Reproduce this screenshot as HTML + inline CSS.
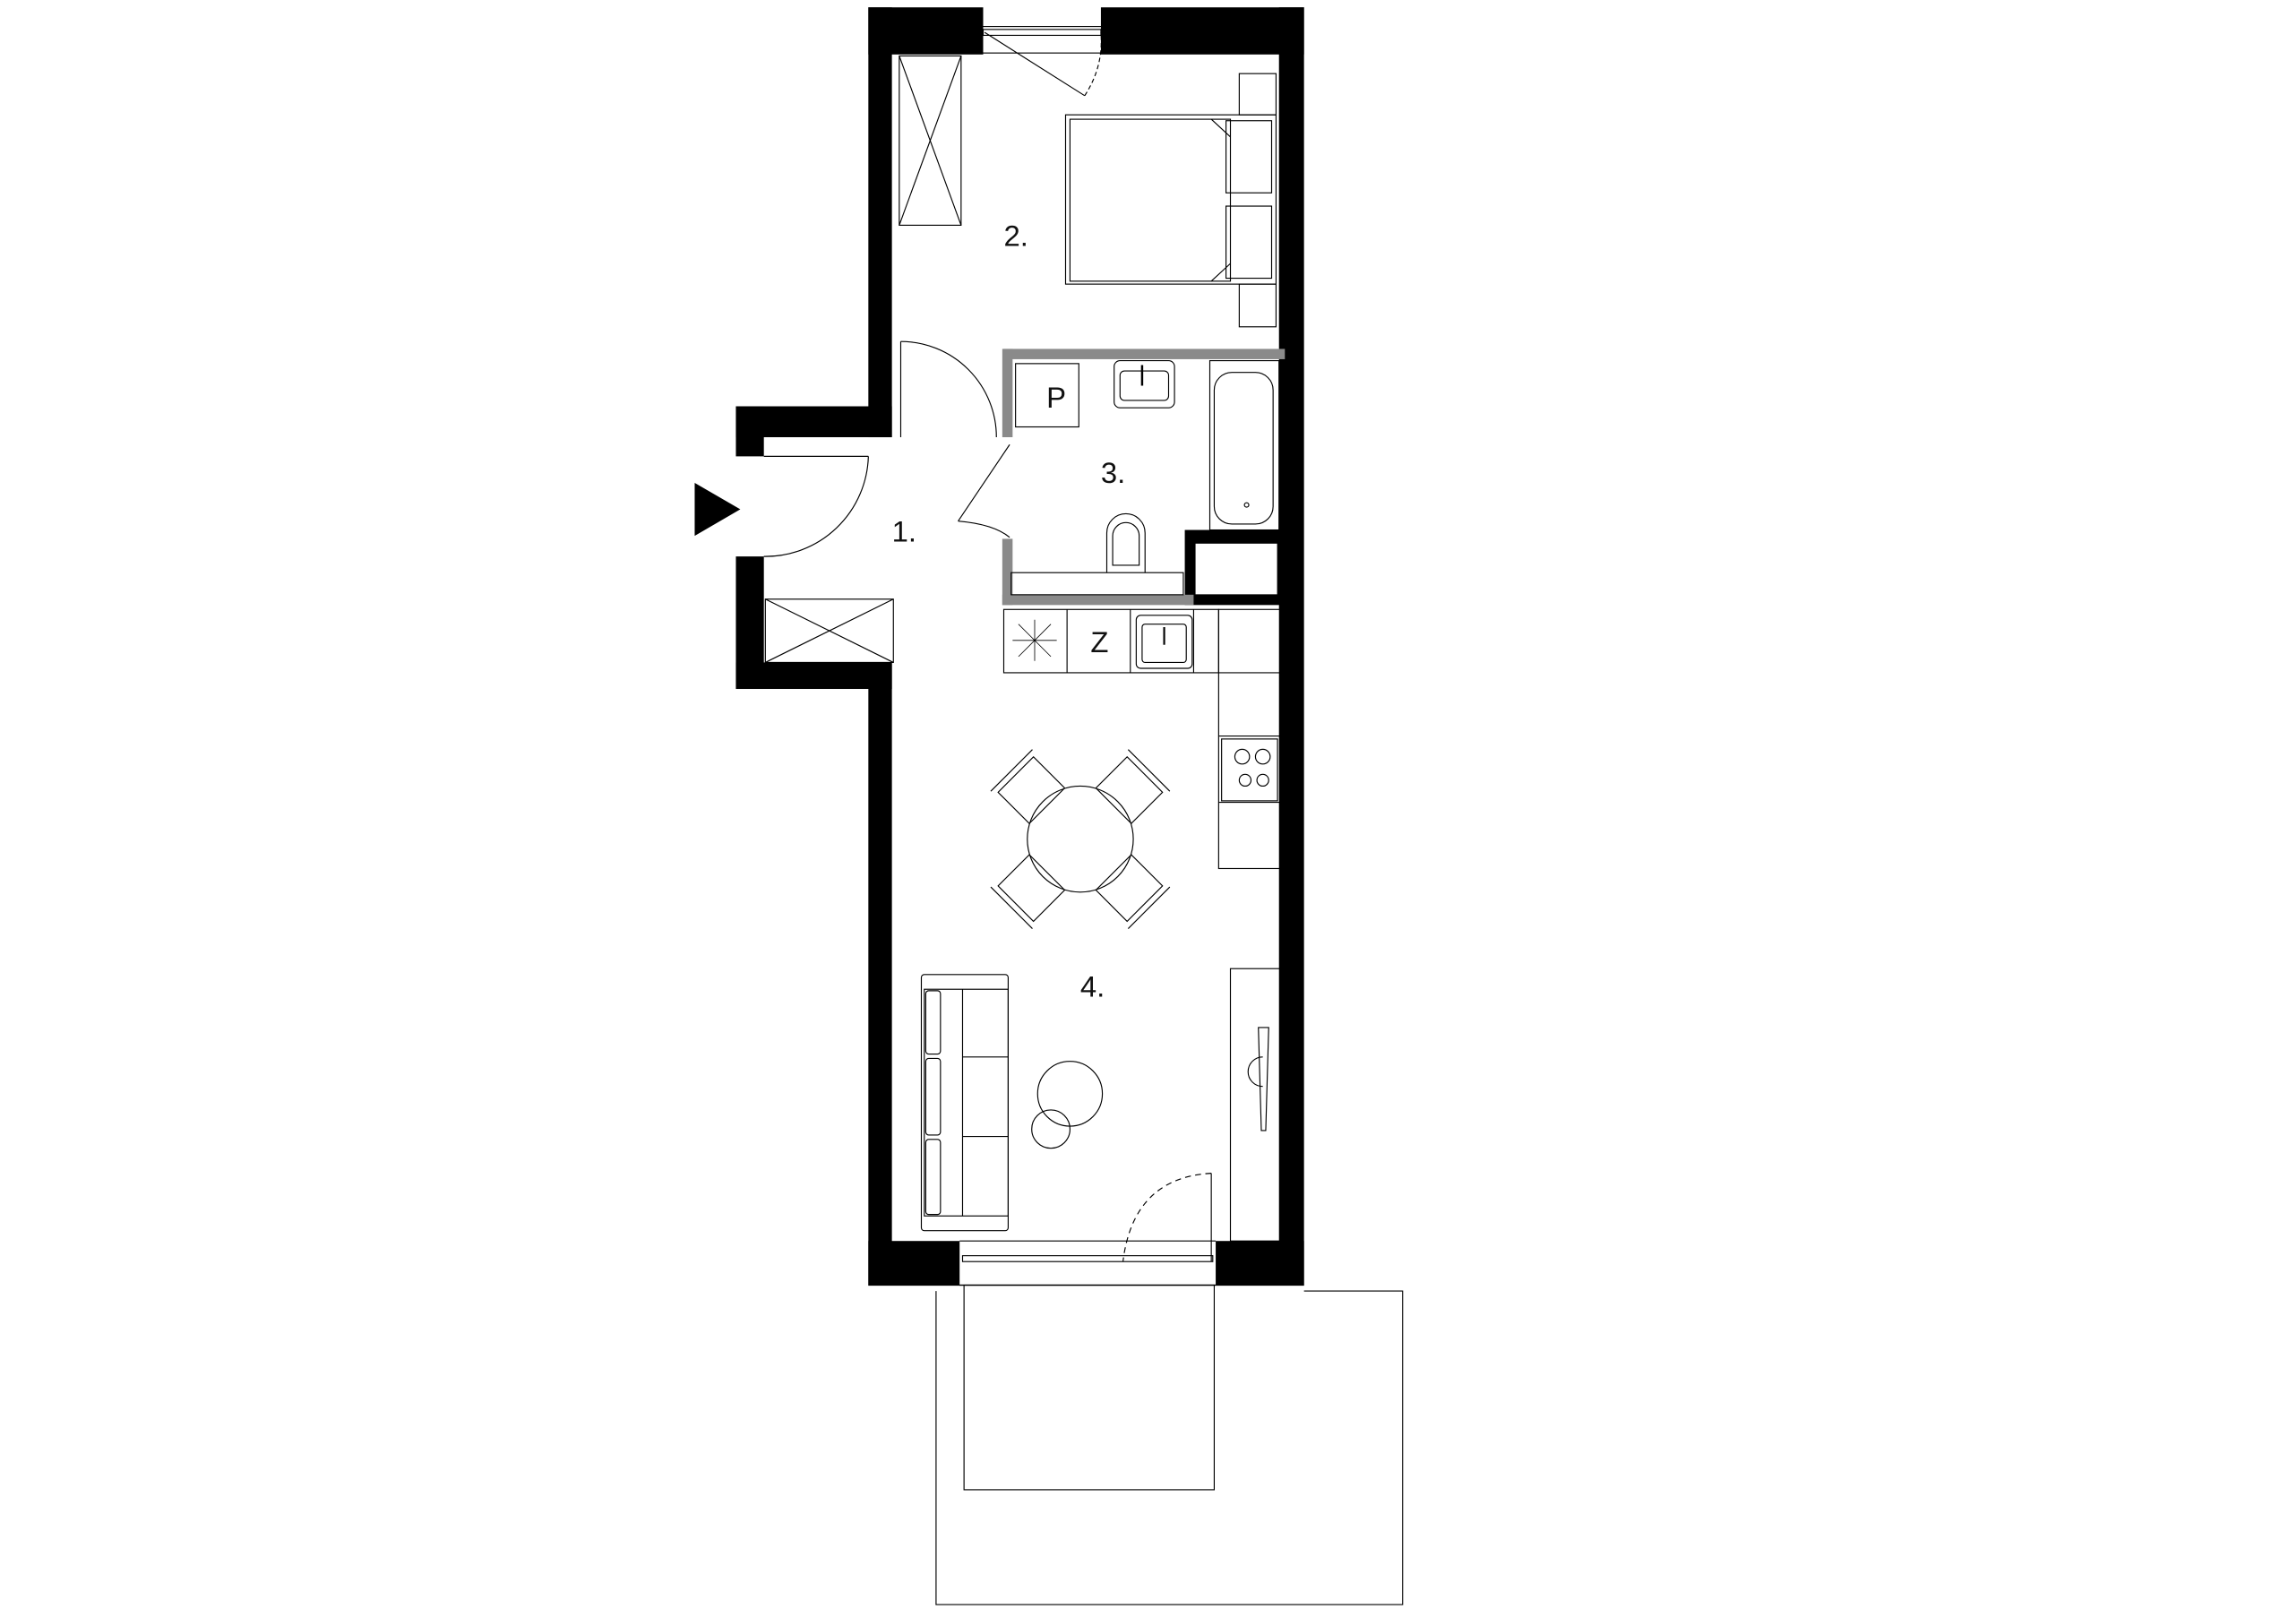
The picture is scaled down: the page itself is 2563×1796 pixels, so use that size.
<!DOCTYPE html>
<html><head><meta charset="utf-8"><style>
html,body{margin:0;padding:0;background:#fff}
svg{display:block}
text{font-family:"Liberation Sans",sans-serif;fill:#111}
</style></head><body>
<svg width="2563" height="1796" viewBox="0 0 1560 1093" preserveAspectRatio="none" xmlns="http://www.w3.org/2000/svg">
<rect width="1560" height="1093" fill="#fff"/>
<g fill="#000">
<rect x="590" y="5" width="78" height="32"/>
<rect x="748" y="5" width="138" height="32"/>
<rect x="590" y="5" width="16" height="292"/>
<rect x="869" y="5" width="17" height="868"/>
<rect x="500" y="276" width="106" height="21"/>
<rect x="500" y="276" width="19" height="34"/>
<rect x="500" y="378" width="19" height="90"/>
<rect x="500" y="450" width="106" height="18"/>
<rect x="590" y="450" width="16" height="423"/>
<rect x="590" y="843" width="62" height="30"/>
<rect x="826" y="843" width="60" height="30"/>
<rect x="805" y="360" width="68" height="51"/>
</g>
<rect x="812" y="369" width="56" height="35" fill="#fff" stroke="#000" stroke-width="0.6"/>
<g fill="none" stroke="#000" stroke-width="0.7">
<rect x="668" y="20" width="80" height="4"/>
<rect x="665" y="18" width="86" height="18"/>
<line x1="669" y1="22" x2="737" y2="65"/>
<path d="M737 65 Q750 45 748 22" stroke-dasharray="3,2"/>
<line x1="652" y1="843" x2="826" y2="843"/>
<rect x="654" y="853" width="170" height="4"/>
<line x1="652" y1="873" x2="826" y2="873"/>
<line x1="823" y1="797" x2="823" y2="857"/>
<path d="M823 797 Q770 800 763 857" stroke-dasharray="4,3"/>
<rect x="655" y="873" width="170" height="139"/>
<polyline points="636,877 636,1090 953,1090 953,877 886,877"/>
<line x1="590" y1="873" x2="886" y2="873"/>
<rect x="611" y="38" width="42" height="115"/>
<line x1="611" y1="38" x2="653" y2="153"/><line x1="653" y1="38" x2="611" y2="153"/>
<rect x="520" y="407" width="87" height="43"/>
<line x1="520" y1="407" x2="607" y2="450"/><line x1="607" y1="407" x2="520" y2="450"/>
<line x1="519" y1="310" x2="590" y2="310"/>
<path d="M590 310 A70 70 0 0 1 519 378"/>
<line x1="612" y1="297" x2="612" y2="232"/>
<path d="M612 232 A65 65 0 0 1 677 297"/>
<rect x="724" y="78" width="143" height="115"/>
<rect x="727" y="81" width="109" height="110"/>
<rect x="833" y="82" width="31" height="49"/>
<rect x="833" y="140" width="31" height="49"/>
<rect x="842" y="50" width="25" height="28"/>
<rect x="842" y="193" width="25" height="29"/>
<path d="M823 81 L836 93 M823 191 L836 179"/>
</g>
<g fill="#8a8a8a">
<rect x="682" y="237" width="191" height="7"/>
<rect x="681" y="237" width="7" height="60"/>
<rect x="681" y="366" width="7" height="45"/>
<rect x="681" y="404" width="130" height="7"/>
</g>
<g fill="none" stroke="#000" stroke-width="0.7">
<line x1="686" y1="302" x2="651" y2="354"/>
<path d="M651 354 Q675 356 686 365"/>
<rect x="690" y="247" width="43" height="43"/>
<rect x="757" y="245" width="41" height="32" rx="4"/>
<rect x="761" y="252" width="33" height="20" rx="3"/>
<line x1="776" y1="248" x2="776" y2="262" stroke-width="1.5"/>
<rect x="822" y="245" width="47" height="115"/>
<rect x="825" y="253" width="40" height="103" rx="12"/>
<circle cx="847" cy="343" r="1.5"/>
<path d="M752 389 L752 362 A13 13 0 0 1 778 362 L778 389"/>
<path d="M756 384 L756 364 A9 9 0 0 1 774 364 L774 384 Z"/>
<rect x="687" y="389" width="117" height="15"/>
<rect x="682" y="414" width="146" height="43"/>
<line x1="725" y1="414" x2="725" y2="457"/>
<line x1="768" y1="414" x2="768" y2="457"/>
<line x1="811" y1="414" x2="811" y2="457"/>
<rect x="828" y="414" width="42" height="176"/>
<line x1="828" y1="457" x2="870" y2="457"/>
<line x1="828" y1="500" x2="870" y2="500"/>
<line x1="828" y1="545" x2="870" y2="545"/>
<rect x="830" y="502" width="38" height="42"/>
<circle cx="844" cy="514" r="5"/><circle cx="858" cy="514" r="5"/>
<circle cx="846" cy="530" r="4"/><circle cx="858" cy="530" r="4"/>
<rect x="772" y="418" width="38" height="36" rx="3"/>
<rect x="776" y="424" width="30" height="26" rx="2"/>
<line x1="791" y1="426" x2="791" y2="438" stroke-width="1.3"/>
<path d="M688 435 L718 435 M703 421 L703 449 M692 424 L714 446 M714 424 L692 446" stroke-width="0.5"/>
<circle cx="734" cy="570" r="36"/>
<g transform="translate(734 570)">
<g transform="rotate(-45)"><rect x="-17" y="-62" width="34" height="30"/><line x1="-20" y1="-66" x2="20" y2="-66"/></g>
<g transform="rotate(45)"><rect x="-17" y="-62" width="34" height="30"/><line x1="-20" y1="-66" x2="20" y2="-66"/></g>
<g transform="rotate(135)"><rect x="-17" y="-62" width="34" height="30"/><line x1="-20" y1="-66" x2="20" y2="-66"/></g>
<g transform="rotate(225)"><rect x="-17" y="-62" width="34" height="30"/><line x1="-20" y1="-66" x2="20" y2="-66"/></g>
</g>
<rect x="626" y="662" width="59" height="174" rx="2"/>
<rect x="628" y="672" width="57" height="154"/>
<rect x="629" y="673" width="10" height="43" rx="2"/>
<rect x="629" y="719" width="10" height="52" rx="2"/>
<rect x="629" y="774" width="10" height="51" rx="2"/>
<line x1="654" y1="672" x2="654" y2="826"/>
<line x1="654" y1="718" x2="685" y2="718"/>
<line x1="654" y1="772" x2="685" y2="772"/>
<circle cx="727" cy="743" r="22"/>
<circle cx="714" cy="767" r="13"/>
<rect x="836" y="658" width="36" height="185"/>
<path d="M855 698 L862 698 L860 768 L857 768 Z"/>
<path d="M858 718 A10 10 0 0 0 858 738"/>
</g>
<polygon points="472,328 503,346 472,364" fill="#000"/>
<g font-size="20">
<text x="682" y="167">2.</text>
<text x="606" y="368">1.</text>
<text x="748" y="328">3.</text>
<text x="734" y="677">4.</text>
<text x="711" y="277" fill="#444">P</text>
<text x="741" y="443" fill="#444">Z</text>
</g>
</svg>
</body></html>
